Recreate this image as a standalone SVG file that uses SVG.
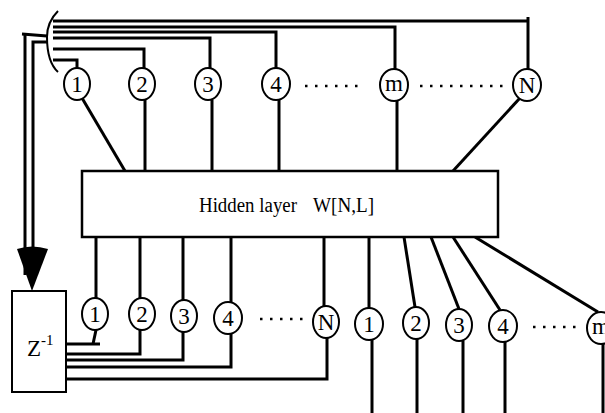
<svg xmlns="http://www.w3.org/2000/svg" width="605" height="413" viewBox="0 0 605 413">
<style>
.w{fill:none;stroke:#000;stroke-width:3;stroke-linecap:butt}
.dot{fill:none;stroke:#000;stroke-width:2.5;stroke-dasharray:2.5 7.5}
.c{fill:#fff;stroke:#000;stroke-width:2}
.t{font-family:"Liberation Serif","Times New Roman",serif;font-size:23px;text-anchor:middle;fill:#000}
.h{font-family:"Liberation Serif","Times New Roman",serif;font-size:20px;fill:#000}
</style>
<rect width="605" height="413" fill="#fff"/>
<g id="connectors">
  <!-- bracket -->
  <path d="M58,11 Q47,22 47,37 Q47,62 58,72" fill="none" stroke="#000" stroke-width="2"/>
  <!-- top bus lines -->
  <polyline class="w" points="53,21 528,21"/>
  <polyline class="w" points="528,17 528,69"/>
  <polyline class="w" points="53,27 395,27 395,69"/>
  <polyline class="w" points="53,32 276,32 276,68"/>
  <polyline class="w" points="53,38 210,38 210,68"/>
  <polyline class="w" points="53,49 144,49 144,68"/>
  <polyline class="w" points="53,60 77,60 77,68"/>
  <!-- feedback -->
  <polyline class="w" points="47,36 22,34"/>
  <polyline class="w" points="25,34 25,275"/>
  <polyline class="w" points="47,42 33,42 33,275"/>
  <path d="M17,249 Q32,244 48,249 L32,291 Z" fill="#000"/>
  <!-- top circles to hidden layer -->
  <line class="w" x1="82" y1="98" x2="125" y2="171"/>
  <line class="w" x1="145" y1="100" x2="145" y2="171"/>
  <line class="w" x1="212" y1="100" x2="212" y2="171"/>
  <line class="w" x1="279" y1="100" x2="279" y2="171"/>
  <line class="w" x1="397" y1="101" x2="397" y2="171"/>
  <line class="w" x1="520" y1="98" x2="453" y2="171"/>
  <line class="dot" x1="305" y1="86" x2="365" y2="86"/>
  <line class="dot" x1="420" y1="86" x2="508" y2="86"/>
  <!-- hidden layer to bottom circles -->
  <line class="w" x1="96" y1="237" x2="96" y2="298"/>
  <line class="w" x1="140" y1="237" x2="140" y2="298"/>
  <line class="w" x1="183" y1="237" x2="183" y2="300"/>
  <line class="w" x1="231" y1="237" x2="231" y2="302"/>
  <line class="w" x1="324" y1="237" x2="324" y2="306"/>
  <line class="w" x1="369" y1="237" x2="369" y2="308"/>
  <line class="w" x1="404" y1="237" x2="415" y2="307"/>
  <line class="w" x1="431" y1="237" x2="459" y2="309"/>
  <line class="w" x1="453" y1="237" x2="500" y2="310"/>
  <line class="w" x1="475" y1="237" x2="598" y2="312"/>
  <line class="dot" x1="260" y1="319" x2="305" y2="319"/>
  <line class="dot" x1="533" y1="327" x2="580" y2="327"/>
  <!-- bottom circles back to Z box -->
  <polyline class="w" points="96,330 93,344"/>
  <polyline class="w" points="66,344 100,344"/>
  <polyline class="w" points="66,354 140,354 140,330"/>
  <polyline class="w" points="66,360 183,360 183,332"/>
  <polyline class="w" points="66,367 231,367 231,334"/>
  <polyline class="w" points="66,379 327,379 327,338"/>
  <!-- outputs -->
  <line class="w" x1="372" y1="340" x2="372" y2="413"/>
  <line class="w" x1="417" y1="339" x2="417" y2="413"/>
  <line class="w" x1="463" y1="341" x2="463" y2="413"/>
  <line class="w" x1="505" y1="342" x2="505" y2="413"/>
  <line class="w" x1="603" y1="344" x2="603" y2="413"/>
</g>
<g id="hidden">
  <rect x="82" y="171" width="416" height="66" fill="#fff" stroke="#000" stroke-width="2.5"/>
  <text class="h" x="199" y="212" textLength="98" lengthAdjust="spacingAndGlyphs">Hidden layer</text>
  <text class="h" x="313" y="212" textLength="61" lengthAdjust="spacingAndGlyphs">W[N,L]</text>
</g>
<g id="zbox">
  <rect x="12" y="291" width="54" height="101" fill="#fff" stroke="#000" stroke-width="2"/>
  <text class="h" x="27" y="356" style="font-size:23px">Z</text>
  <text class="h" x="41" y="345" style="font-size:15px">-1</text>
</g>
<g id="in1"><ellipse class="c" cx="77" cy="84" rx="13" ry="16"/><text class="t" x="77" y="92">1</text></g>
<g id="in2"><ellipse class="c" cx="142" cy="84" rx="13" ry="16"/><text class="t" x="142" y="92">2</text></g>
<g id="in3"><ellipse class="c" cx="208" cy="84" rx="13" ry="16"/><text class="t" x="208" y="92">3</text></g>
<g id="in4"><ellipse class="c" cx="276" cy="84" rx="14" ry="16"/><text class="t" x="276" y="92">4</text></g>
<g id="inm"><ellipse class="c" cx="394" cy="85" rx="14" ry="16"/><text class="t" x="394" y="91">m</text></g>
<g id="inN"><ellipse class="c" cx="527" cy="85" rx="14" ry="16"/><text class="t" x="527" y="93">N</text></g>
<g id="r1"><ellipse class="c" cx="95" cy="314" rx="13" ry="16"/><text class="t" x="95" y="322">1</text></g>
<g id="r2"><ellipse class="c" cx="142" cy="314" rx="13" ry="16"/><text class="t" x="142" y="322">2</text></g>
<g id="r3"><ellipse class="c" cx="184" cy="316" rx="13" ry="16"/><text class="t" x="184" y="324">3</text></g>
<g id="r4"><ellipse class="c" cx="228" cy="318" rx="14" ry="16"/><text class="t" x="228" y="326">4</text></g>
<g id="rN"><ellipse class="c" cx="326" cy="322" rx="13" ry="16"/><text class="t" x="326" y="330">N</text></g>
<g id="o1"><ellipse class="c" cx="369" cy="324" rx="14" ry="16"/><text class="t" x="369" y="332">1</text></g>
<g id="o2"><ellipse class="c" cx="416" cy="323" rx="13" ry="16"/><text class="t" x="416" y="331">2</text></g>
<g id="o3"><ellipse class="c" cx="459" cy="325" rx="13" ry="16"/><text class="t" x="459" y="333">3</text></g>
<g id="o4"><ellipse class="c" cx="503" cy="326" rx="14" ry="16"/><text class="t" x="503" y="334">4</text></g>
<g id="om"><ellipse class="c" cx="601" cy="328" rx="14" ry="16"/><text class="t" x="601" y="334">m</text></g>
</svg>
